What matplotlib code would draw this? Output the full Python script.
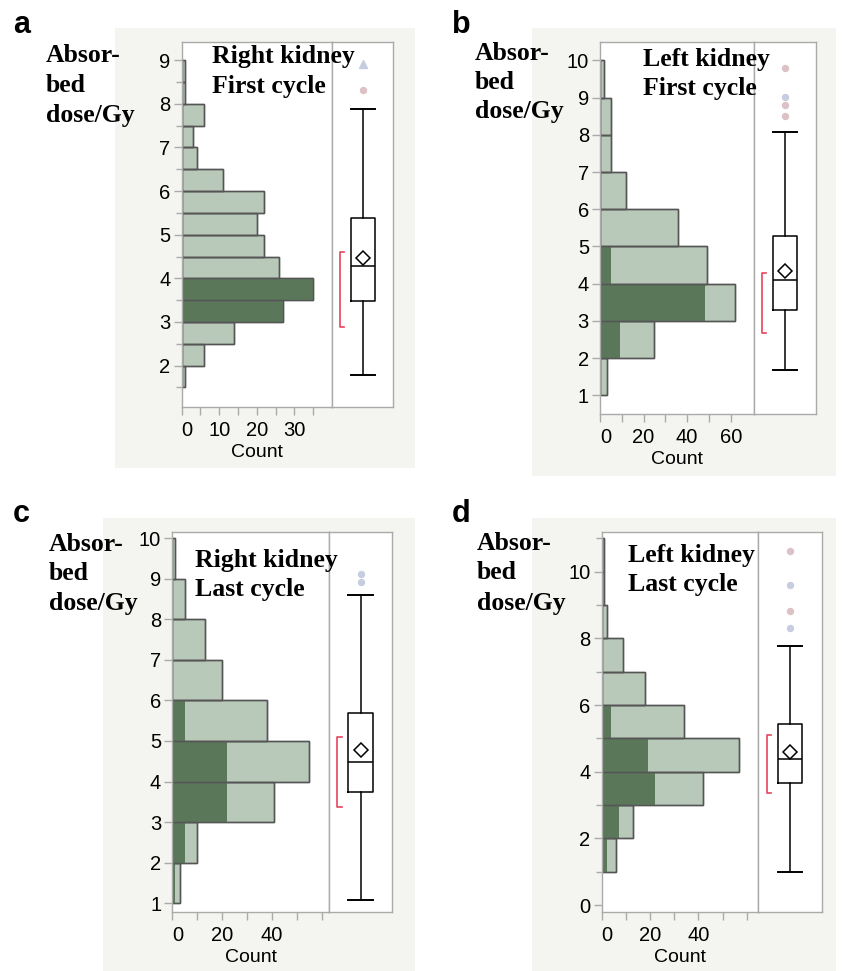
import matplotlib
matplotlib.use("Agg")
import matplotlib.pyplot as plt
import numpy as np
from matplotlib.ticker import FixedLocator

W, H = 842, 971

# ---- data ----
# a: right kidney, first cycle (bins of 0.5 Gy starting at 1.5)
edges_a = np.arange(1.5, 9.0, 0.5)
counts_a = [1, 6, 14, 27, 35, 26, 22, 20, 22, 11, 4, 3, 6, 1, 1]
dark_a = [0, 0, 0, 27, 35, 0, 0, 0, 0, 0, 0, 0, 0, 0, 0]
box_a = dict(whislo=1.79, q1=3.47, med=4.29, mean=4.47, q3=5.375, whishi=7.88)
short_a = (2.88, 4.60)
fliers_a = [8.92, 8.31]
flier_kind_a = ['tri', 'pink']

# b: left kidney, first cycle (bins of 1 Gy starting at 1)
edges_b = np.arange(1, 10, 1.0)
counts_b = [3, 25, 62, 49, 36, 12, 5, 5, 2]
dark_b = [0, 9, 48, 5, 0, 0, 0, 0, 0]
box_b = dict(whislo=1.68, q1=3.30, med=4.11, mean=4.35, q3=5.28, whishi=8.07)
short_b = (2.68, 4.29)
fliers_b = [9.80, 9.01, 8.81, 8.50]
flier_kind_b = ['pink', 'blue', 'pink', 'pink']

# c: right kidney, last cycle
edges_c = np.arange(1, 10, 1.0)
counts_c = [3, 10, 41, 55, 38, 20, 13, 5, 1]
dark_c = [1, 5, 22, 22, 5, 0, 0, 0, 0]
box_c = dict(whislo=1.07, q1=3.75, med=4.48, mean=4.78, q3=5.70, whishi=8.60)
short_c = (3.37, 5.10)
fliers_c = [9.11, 8.91]
flier_kind_c = ['blue', 'blue']

# d: left kidney, last cycle
edges_d = np.arange(1, 11, 1.0)
counts_d = [6, 13, 42, 57, 34, 18, 9, 2, 1, 1]
dark_d = [2, 7, 22, 19, 4, 0, 0, 0, 0, 0]
box_d = dict(whislo=0.98, q1=3.66, med=4.39, mean=4.60, q3=5.42, whishi=7.77)
short_d = (3.37, 5.09)
fliers_d = [10.62, 9.61, 8.81, 8.30]
flier_kind_d = ['pink', 'blue', 'pink', 'blue']

titles = [("Right kidney", "First cycle"), ("Left kidney", "First cycle"),
          ("Right kidney", "Last cycle"), ("Left kidney", "Last cycle")]
letters = ['a', 'b', 'c', 'd']

LIGHT = '#b9c9b9'
DARK = '#5b775a'
EDGE = '#555555'
BG = '#f4f5f0'
FRAME = '#aaaaaa'
FLIER_COL = {'pink': '#dcc1c6', 'blue': '#c6cde0', 'tri': '#c6cde0'}
SANS = 'Liberation Sans'
SERIF = 'Liberation Serif'

panels = [
    dict(edges=edges_a, counts=counts_a, dark=dark_a, width=0.5, box=box_a, short=short_a,
         fliers=fliers_a, kinds=flier_kind_a,
         bg=(115, 28, 415, 468), hist=(181.7, 41.7, 332, 406.7), boxr=393.3,
         ylim=(1.06, 9.42), ymaj=range(2, 10), ymin=np.arange(1.5, 9.5, 0.5),
         xlim=(0, 40), xmaj=[0, 10, 20, 30], xmin=[5, 15, 25, 35],
         letter=(13, 33), label=(46, [62, 92, 122]), title=(212, [63, 93])),
    dict(edges=edges_b, counts=counts_b, dark=dark_b, width=1.0, box=box_b, short=short_b,
         fliers=fliers_b, kinds=flier_kind_b,
         bg=(532, 28, 836, 476), hist=(600, 41.7, 754, 414), boxr=815.7,
         ylim=(0.5, 10.5), ymaj=range(1, 11), ymin=[],
         xlim=(0, 70.7), xmaj=[0, 20, 40, 60], xmin=[10, 30, 50],
         letter=(452, 33), label=(475, [60, 89, 118]), title=(643, [66, 95])),
    dict(edges=edges_c, counts=counts_c, dark=dark_c, width=1.0, box=box_c, short=short_c,
         fliers=fliers_c, kinds=flier_kind_c,
         bg=(103, 518, 415, 971), hist=(172.3, 531.7, 329, 911.7), boxr=392.3,
         ylim=(0.79, 10.16), ymaj=range(1, 11), ymin=[],
         xlim=(0, 63), xmaj=[0, 20, 40], xmin=[10, 30, 50, 60],
         letter=(13, 522), label=(49, [551, 580, 610]), title=(195, [567, 596])),
    dict(edges=edges_d, counts=counts_d, dark=dark_d, width=1.0, box=box_d, short=short_d,
         fliers=fliers_d, kinds=flier_kind_d,
         bg=(532, 518, 836, 971), hist=(601.7, 531.7, 758.3, 911.7), boxr=821.7,
         ylim=(-0.2, 11.2), ymaj=range(0, 11, 2), ymin=range(1, 12, 2),
         xlim=(0, 64.8), xmaj=[0, 20, 40], xmin=[10, 30, 50, 60],
         letter=(452, 522), label=(477, [550, 579, 610]), title=(628, [562, 591])),
]


def rect(x0, y0, x1, y1):
    return [x0 / W, 1 - y1 / H, (x1 - x0) / W, (y1 - y0) / H]


fig = plt.figure(figsize=(W / 100, H / 100), dpi=100)

for i, p in enumerate(panels):
    # beige backdrop
    bg = fig.add_axes(rect(*p['bg']), zorder=0)
    bg.set_facecolor(BG)
    bg.set_xticks([])
    bg.set_yticks([])
    for s in bg.spines.values():
        s.set_visible(False)

    hx0, hy0, hx1, hy1 = p['hist']
    ax = fig.add_axes(rect(hx0, hy0, hx1, hy1), zorder=1)
    bx = fig.add_axes(rect(hx1, hy0, p['boxr'], hy1), zorder=1)

    # histogram: full count in light, selected part in dark
    ax.barh(p['edges'], p['counts'], height=p['width'], align='edge',
            color=LIGHT, edgecolor=EDGE, linewidth=1.0)
    ax.barh(p['edges'], p['dark'], height=p['width'], align='edge',
            color=DARK, edgecolor='none', linewidth=0)
    ax.barh(p['edges'], p['counts'], height=p['width'], align='edge',
            color='none', edgecolor=EDGE, linewidth=1.0)

    ax.set_ylim(*p['ylim'])
    ax.set_xlim(*p['xlim'])
    ax.yaxis.set_major_locator(FixedLocator(list(p['ymaj'])))
    ax.yaxis.set_minor_locator(FixedLocator(list(p['ymin'])))
    ax.xaxis.set_major_locator(FixedLocator(p['xmaj']))
    ax.xaxis.set_minor_locator(FixedLocator(p['xmin']))
    ax.tick_params(axis='y', which='major', length=6, width=1, color=FRAME, pad=2,
                   labelsize=14.5)
    ax.tick_params(axis='y', which='minor', length=4, width=1, color=FRAME)
    ax.tick_params(axis='x', which='both', length=6, width=1, color=FRAME, pad=4,
                   labelsize=14.5)
    for lab in ax.get_xticklabels() + ax.get_yticklabels():
        lab.set_family(SANS)
    ax.get_xticklabels()[0].set_horizontalalignment('left')
    ax.set_xlabel('Count', family=SANS, fontsize=14, labelpad=3)
    for s in ax.spines.values():
        s.set_color(FRAME)
        s.set_linewidth(1)

    # box plot panel
    st = dict(p['box'])
    st['fliers'] = []
    bx.bxp([st], positions=[0.5], widths=0.39, capwidths=0.39, showmeans=True,
           showfliers=False, patch_artist=False,
           boxprops=dict(color='black', linewidth=1.1),
           whiskerprops=dict(color='black', linewidth=1.1),
           capprops=dict(color='black', linewidth=1.4),
           medianprops=dict(color='black', linewidth=1.1),
           meanprops=dict(marker='D', markerfacecolor='white', markeredgecolor='black',
                          markersize=7, markeredgewidth=1.1))
    for v, k in zip(p['fliers'], p['kinds']):
        bx.plot([0.5], [v], marker='^' if k == 'tri' else 'o', ms=5.5 if k == 'tri' else 4.3,
                color=FLIER_COL[k], linestyle='none')
    lo, hi = p['short']
    bx.plot([0.2, 0.13, 0.13, 0.2], [hi, hi, lo, lo], color='#e8445e', linewidth=1.2)
    bx.set_xlim(0, 1)
    bx.set_ylim(*p['ylim'])
    bx.set_xticks([])
    bx.set_yticks([])
    bx.tick_params(which='both', left=False, bottom=False, labelleft=False, labelbottom=False)
    for s in bx.spines.values():
        s.set_color(FRAME)
        s.set_linewidth(1)

    # texts
    lx, ly = p['letter']
    fig.text(lx / W, 1 - ly / H, letters[i], family=SANS, weight='bold', fontsize=22,
             va='baseline', ha='left')
    tx, tys = p['label']
    for txt, yy in zip(['Absor-', 'bed', 'dose/Gy'], tys):
        fig.text(tx / W, 1 - yy / H, txt, family=SERIF, weight='bold', fontsize=18.5,
                 va='baseline', ha='left', zorder=3)
    ttx, ttys = p['title']
    for txt, yy in zip(titles[i], ttys):
        fig.text(ttx / W, 1 - yy / H, txt, family=SERIF, weight='bold', fontsize=18.5,
                 va='baseline', ha='left', zorder=3)

fig.savefig('out.png', dpi=100)
